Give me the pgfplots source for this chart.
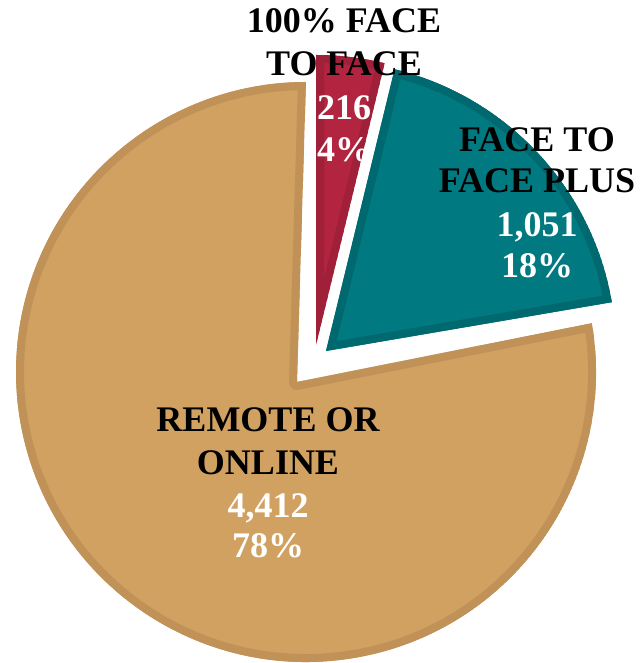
\documentclass[border=0pt]{standalone}
\usepackage{pgfplots}
\pgfplotsset{compat=1.18}
\usepackage{pgfplotstable}
\usepackage{fontspec}
\setmainfont{Liberation Serif}
\usetikzlibrary{calc}

\definecolor{ftfFill}{HTML}{B22440}
\definecolor{ftfLine}{HTML}{A0203A}
\definecolor{plusFill}{HTML}{007A80}
\definecolor{plusLine}{HTML}{00696F}
\definecolor{remFill}{HTML}{D1A162}
\definecolor{remLine}{HTML}{C09258}

% value, wedge tip, arc centre (pixel-like units, y up)
\pgfplotstableread{
value apexx apexy arcx arcy
216   316   318   316  318
1051  326   312   326  312
4412  297   281   306  291
}\piedata

\newcommand\lbl{\fontsize{36}{40}\selectfont\bfseries}

% #1,#2 tip  #3,#4 arc centre  #5,#6 angles  #7 fill  #8 border
\newcommand\slice[8]{%
  \begin{scope}
    \clip (axis cs:#1,#2) -- ($(axis cs:#3,#4)+(#5:290pt)$)
      arc[start angle=#5,end angle=#6,radius=290pt] -- cycle;
    \filldraw[fill=#7,draw=#8,line width=16pt,line join=round]
      (axis cs:#1,#2) -- ($(axis cs:#3,#4)+(#5:290pt)$)
      arc[start angle=#5,end angle=#6,radius=290pt] -- cycle;
  \end{scope}}

\begin{document}
\begin{tikzpicture}
\pgfplotstablegetelem{0}{value}\of\piedata \let\vA\pgfplotsretval
\pgfplotstablegetelem{1}{value}\of\piedata \let\vB\pgfplotsretval
\pgfplotstablegetelem{2}{value}\of\piedata \let\vC\pgfplotsretval
\pgfmathsetmacro\tot{\vA+\vB+\vC}
\pgfmathsetmacro\aOne{90-360*(\vA/\tot)}
\pgfmathsetmacro\aTwo{\aOne-360*(\vB/\tot)}
\pgfmathsetmacro\aThree{\aTwo-360*(\vC/\tot)}
\begin{axis}[
  width=642pt, height=663pt, scale only axis,
  xmin=0, xmax=642, ymin=0, ymax=663,
  enlargelimits=false, hide axis, clip=false,
]
\slice{297}{281}{306}{291}{\aTwo}{\aThree}{remFill}{remLine}
\slice{326}{312}{326}{312}{\aOne}{\aTwo}{plusFill}{plusLine}
\slice{316}{318}{316}{318}{90}{\aOne}{ftfFill}{ftfLine}

\node[anchor=base,font=\lbl] at (axis cs:344,630) {100\% FACE};
\node[anchor=base,font=\lbl] at (axis cs:344,587) {TO FACE};
\node[anchor=base,font=\lbl,text=white] at (axis cs:344,543) {216};
\node[anchor=base,font=\lbl,text=white] at (axis cs:344,501) {4\%};

\node[anchor=base,font=\lbl] at (axis cs:537,511) {FACE TO};
\node[anchor=base,font=\lbl] at (axis cs:537,470) {FACE PLUS};
\node[anchor=base,font=\lbl,text=white] at (axis cs:537,426) {1,051};
\node[anchor=base,font=\lbl,text=white] at (axis cs:537,385) {18\%};

\node[anchor=base,font=\lbl] at (axis cs:268,231) {REMOTE OR};
\node[anchor=base,font=\lbl] at (axis cs:268,188) {ONLINE};
\node[anchor=base,font=\lbl,text=white] at (axis cs:268,145) {4,412};
\node[anchor=base,font=\lbl,text=white] at (axis cs:268,105) {78\%};
\end{axis}
\pgfresetboundingbox
\path[use as bounding box] (0,0) rectangle (642pt,663pt);
\end{tikzpicture}
\end{document}
